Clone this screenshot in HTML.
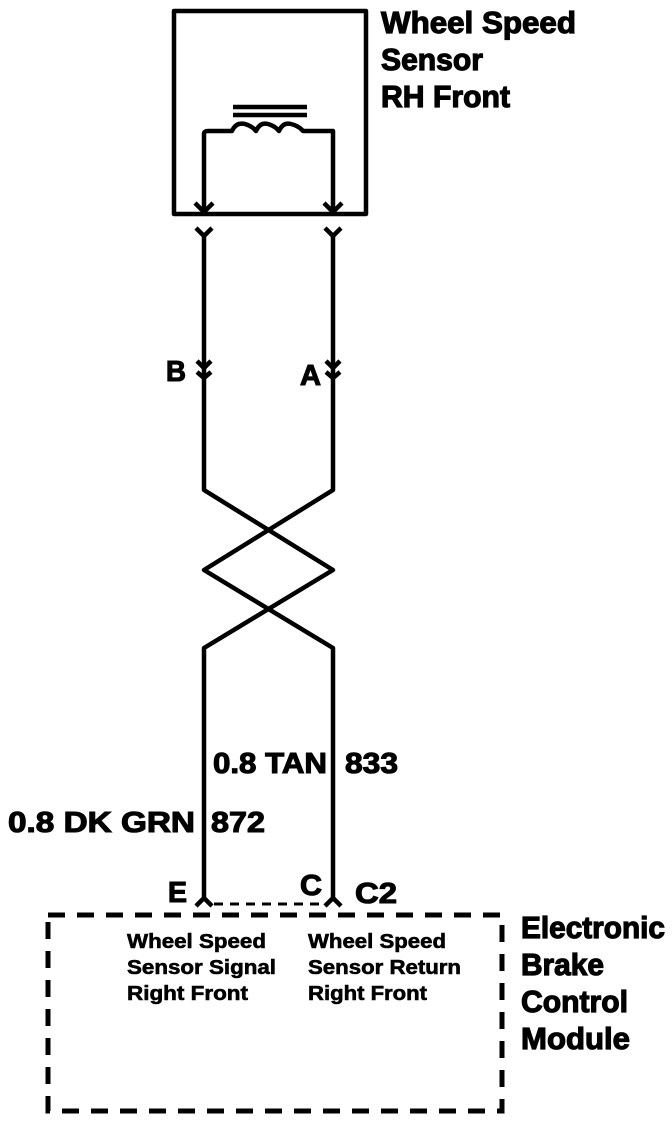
<!DOCTYPE html>
<html><head><style>
html,body{margin:0;padding:0;background:#fff;width:672px;height:1124px;overflow:hidden}
svg{display:block}
text{font-family:"Liberation Sans",sans-serif;font-weight:bold;fill:#000;stroke:#000}
</style></head><body>
<svg width="672" height="1124" viewBox="0 0 672 1124" xmlns="http://www.w3.org/2000/svg">
<g stroke="#000" fill="none" stroke-width="4.5" stroke-linejoin="round">
<rect x="174" y="11" width="192" height="203"/>
<line x1="233" y1="107" x2="307" y2="107"/>
<line x1="233" y1="115" x2="307" y2="115"/>
<path d="M204 212 V134 Q204 131 208 131 H232 Q236 122 245 124 Q252 126 256 131 Q260 122 268 124 Q275 126 279 131 Q283 122 291 124 Q299 126 303 131 Q305 131 308 131 H333 V212"/>
<path d="M195 203 L204 212 L213 203"/>
<path d="M324 203 L333 212 L342 203"/>
<path d="M196 228 L204 236 L212 228"/>
<path d="M325 228 L333 236 L341 228"/>
<path d="M204 236 V490 L333 570 L204 648 V900"/>
<path d="M333 236 V490 L204 570 L333 648 V900"/>
<path d="M197 361 L204 368 L211 361"/>
<path d="M197 372 L204 378 L211 372"/>
<path d="M326 361 L333 368 L340 361"/>
<path d="M326 372 L333 378 L340 372"/>
<path d="M196 906 L204 898 L212 906"/>
<path d="M325 906 L333 898 L341 906"/>
</g>
<line x1="214" y1="904" x2="322" y2="904" stroke="#000" stroke-width="3" stroke-dasharray="9 7"/>
<rect x="48" y="915" width="454" height="196" fill="none" stroke="#000" stroke-width="5" stroke-dasharray="17 12"/>
<g font-size="31" stroke-width="1.2">
<text x="381" y="33" textLength="195" lengthAdjust="spacingAndGlyphs">Wheel Speed</text>
<text x="381" y="70" textLength="102" lengthAdjust="spacingAndGlyphs">Sensor</text>
<text x="381" y="107" textLength="129" lengthAdjust="spacingAndGlyphs">RH Front</text>
<text x="521" y="938" textLength="144" lengthAdjust="spacingAndGlyphs">Electronic</text>
<text x="521" y="975" textLength="83" lengthAdjust="spacingAndGlyphs">Brake</text>
<text x="521" y="1012" textLength="107" lengthAdjust="spacingAndGlyphs">Control</text>
<text x="521" y="1049" textLength="109" lengthAdjust="spacingAndGlyphs">Module</text>
</g>
<g font-size="29" stroke-width="1.1">
<text x="166" y="381" textLength="20" lengthAdjust="spacingAndGlyphs">B</text>
<text x="300" y="385" textLength="21" lengthAdjust="spacingAndGlyphs">A</text>
<text x="213" y="773" textLength="114" lengthAdjust="spacingAndGlyphs">0.8 TAN</text>
<text x="345" y="773" textLength="53" lengthAdjust="spacingAndGlyphs">833</text>
<text x="8" y="832" textLength="187" lengthAdjust="spacingAndGlyphs">0.8  DK GRN</text>
<text x="211" y="832" textLength="54" lengthAdjust="spacingAndGlyphs">872</text>
<text x="168" y="902" textLength="19" lengthAdjust="spacingAndGlyphs">E</text>
<text x="300" y="895" textLength="22" lengthAdjust="spacingAndGlyphs">C</text>
<text x="355" y="903" textLength="42" lengthAdjust="spacingAndGlyphs">C2</text>
</g>
<g font-size="20" stroke-width="0.6">
<text x="127" y="948" textLength="139" lengthAdjust="spacingAndGlyphs">Wheel Speed</text>
<text x="127" y="974" textLength="149" lengthAdjust="spacingAndGlyphs">Sensor Signal</text>
<text x="127" y="1000" textLength="121" lengthAdjust="spacingAndGlyphs">Right Front</text>
<text x="308" y="948" textLength="138" lengthAdjust="spacingAndGlyphs">Wheel Speed</text>
<text x="308" y="974" textLength="153" lengthAdjust="spacingAndGlyphs">Sensor Return</text>
<text x="308" y="1000" textLength="119" lengthAdjust="spacingAndGlyphs">Right Front</text>
</g>
</svg>
</body></html>
